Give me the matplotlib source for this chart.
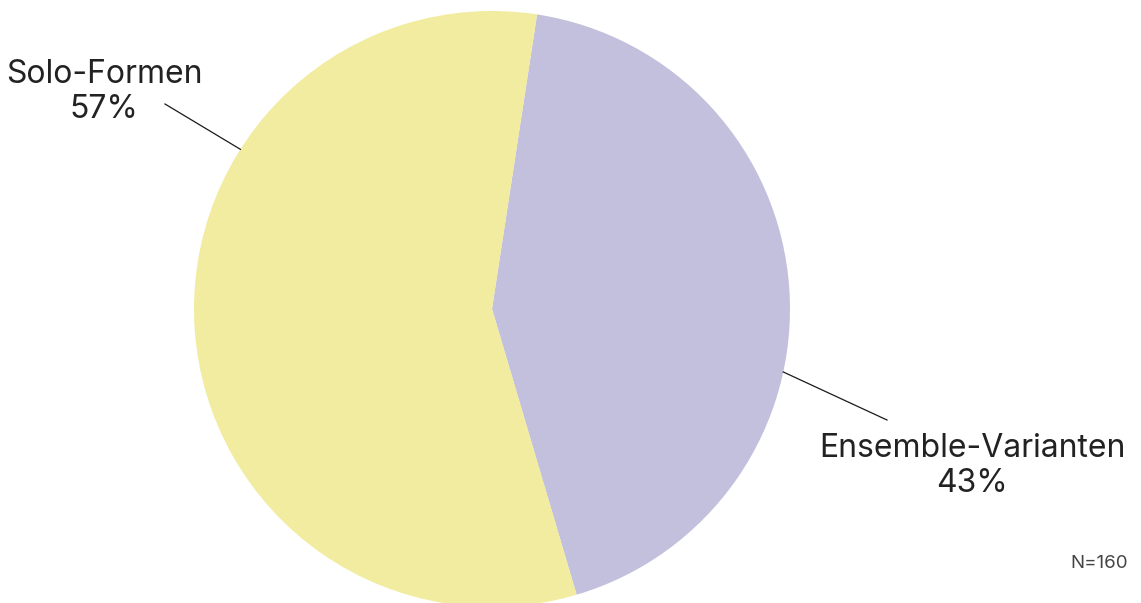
import numpy as np
import matplotlib.pyplot as plt

# Daten
kategorien = ["Ensemble-Varianten", "Solo-Formen"]
anteile = [43, 57]
farben = ["#c3c0dd", "#f1ec9f"]
hinweis = "N=160"

plt.rcParams['font.family'] = ['Inter', 'DejaVu Sans']

fig = plt.figure(figsize=(11.41, 6.03), dpi=100)
ax = fig.add_axes([0, 0, 1, 1])

mitte = (492, 294)
radius = 298
start = 81.3

wedges, _ = ax.pie(anteile, colors=farben, startangle=start, counterclock=False,
                   center=mitte, radius=radius, frame=True,
                   wedgeprops=dict(linewidth=0))
ax.set_xlim(0, 1141)
ax.set_ylim(0, 603)
ax.set_aspect('equal')
ax.axis('off')

# Beschriftungen mit Hinweislinien
beschriftungen = [
    # (Kategorie-Index, Winkel auf dem Rand, Linienende, Textposition)
    (1, 147.6, (165, 499), (104, 511)),
    (0, -12.2, (887, 183), (972, 137)),
]
for idx, winkel, ende, textpos in beschriftungen:
    w = np.deg2rad(winkel)
    rand = (mitte[0] + radius * np.cos(w), mitte[1] + radius * np.sin(w))
    ax.plot([rand[0], ende[0]], [rand[1], ende[1]], color="#1a1a1a", lw=0.9)
    ax.text(textpos[0], textpos[1], f"{kategorien[idx]}\n{anteile[idx]}%",
            ha='center', va='center', fontsize=23, color="#222222",
            linespacing=1.2)

ax.text(1128, 40, hinweis, ha='right', va='center', fontsize=13.5, color="#444444")

fig.savefig("out.png", dpi=100)
